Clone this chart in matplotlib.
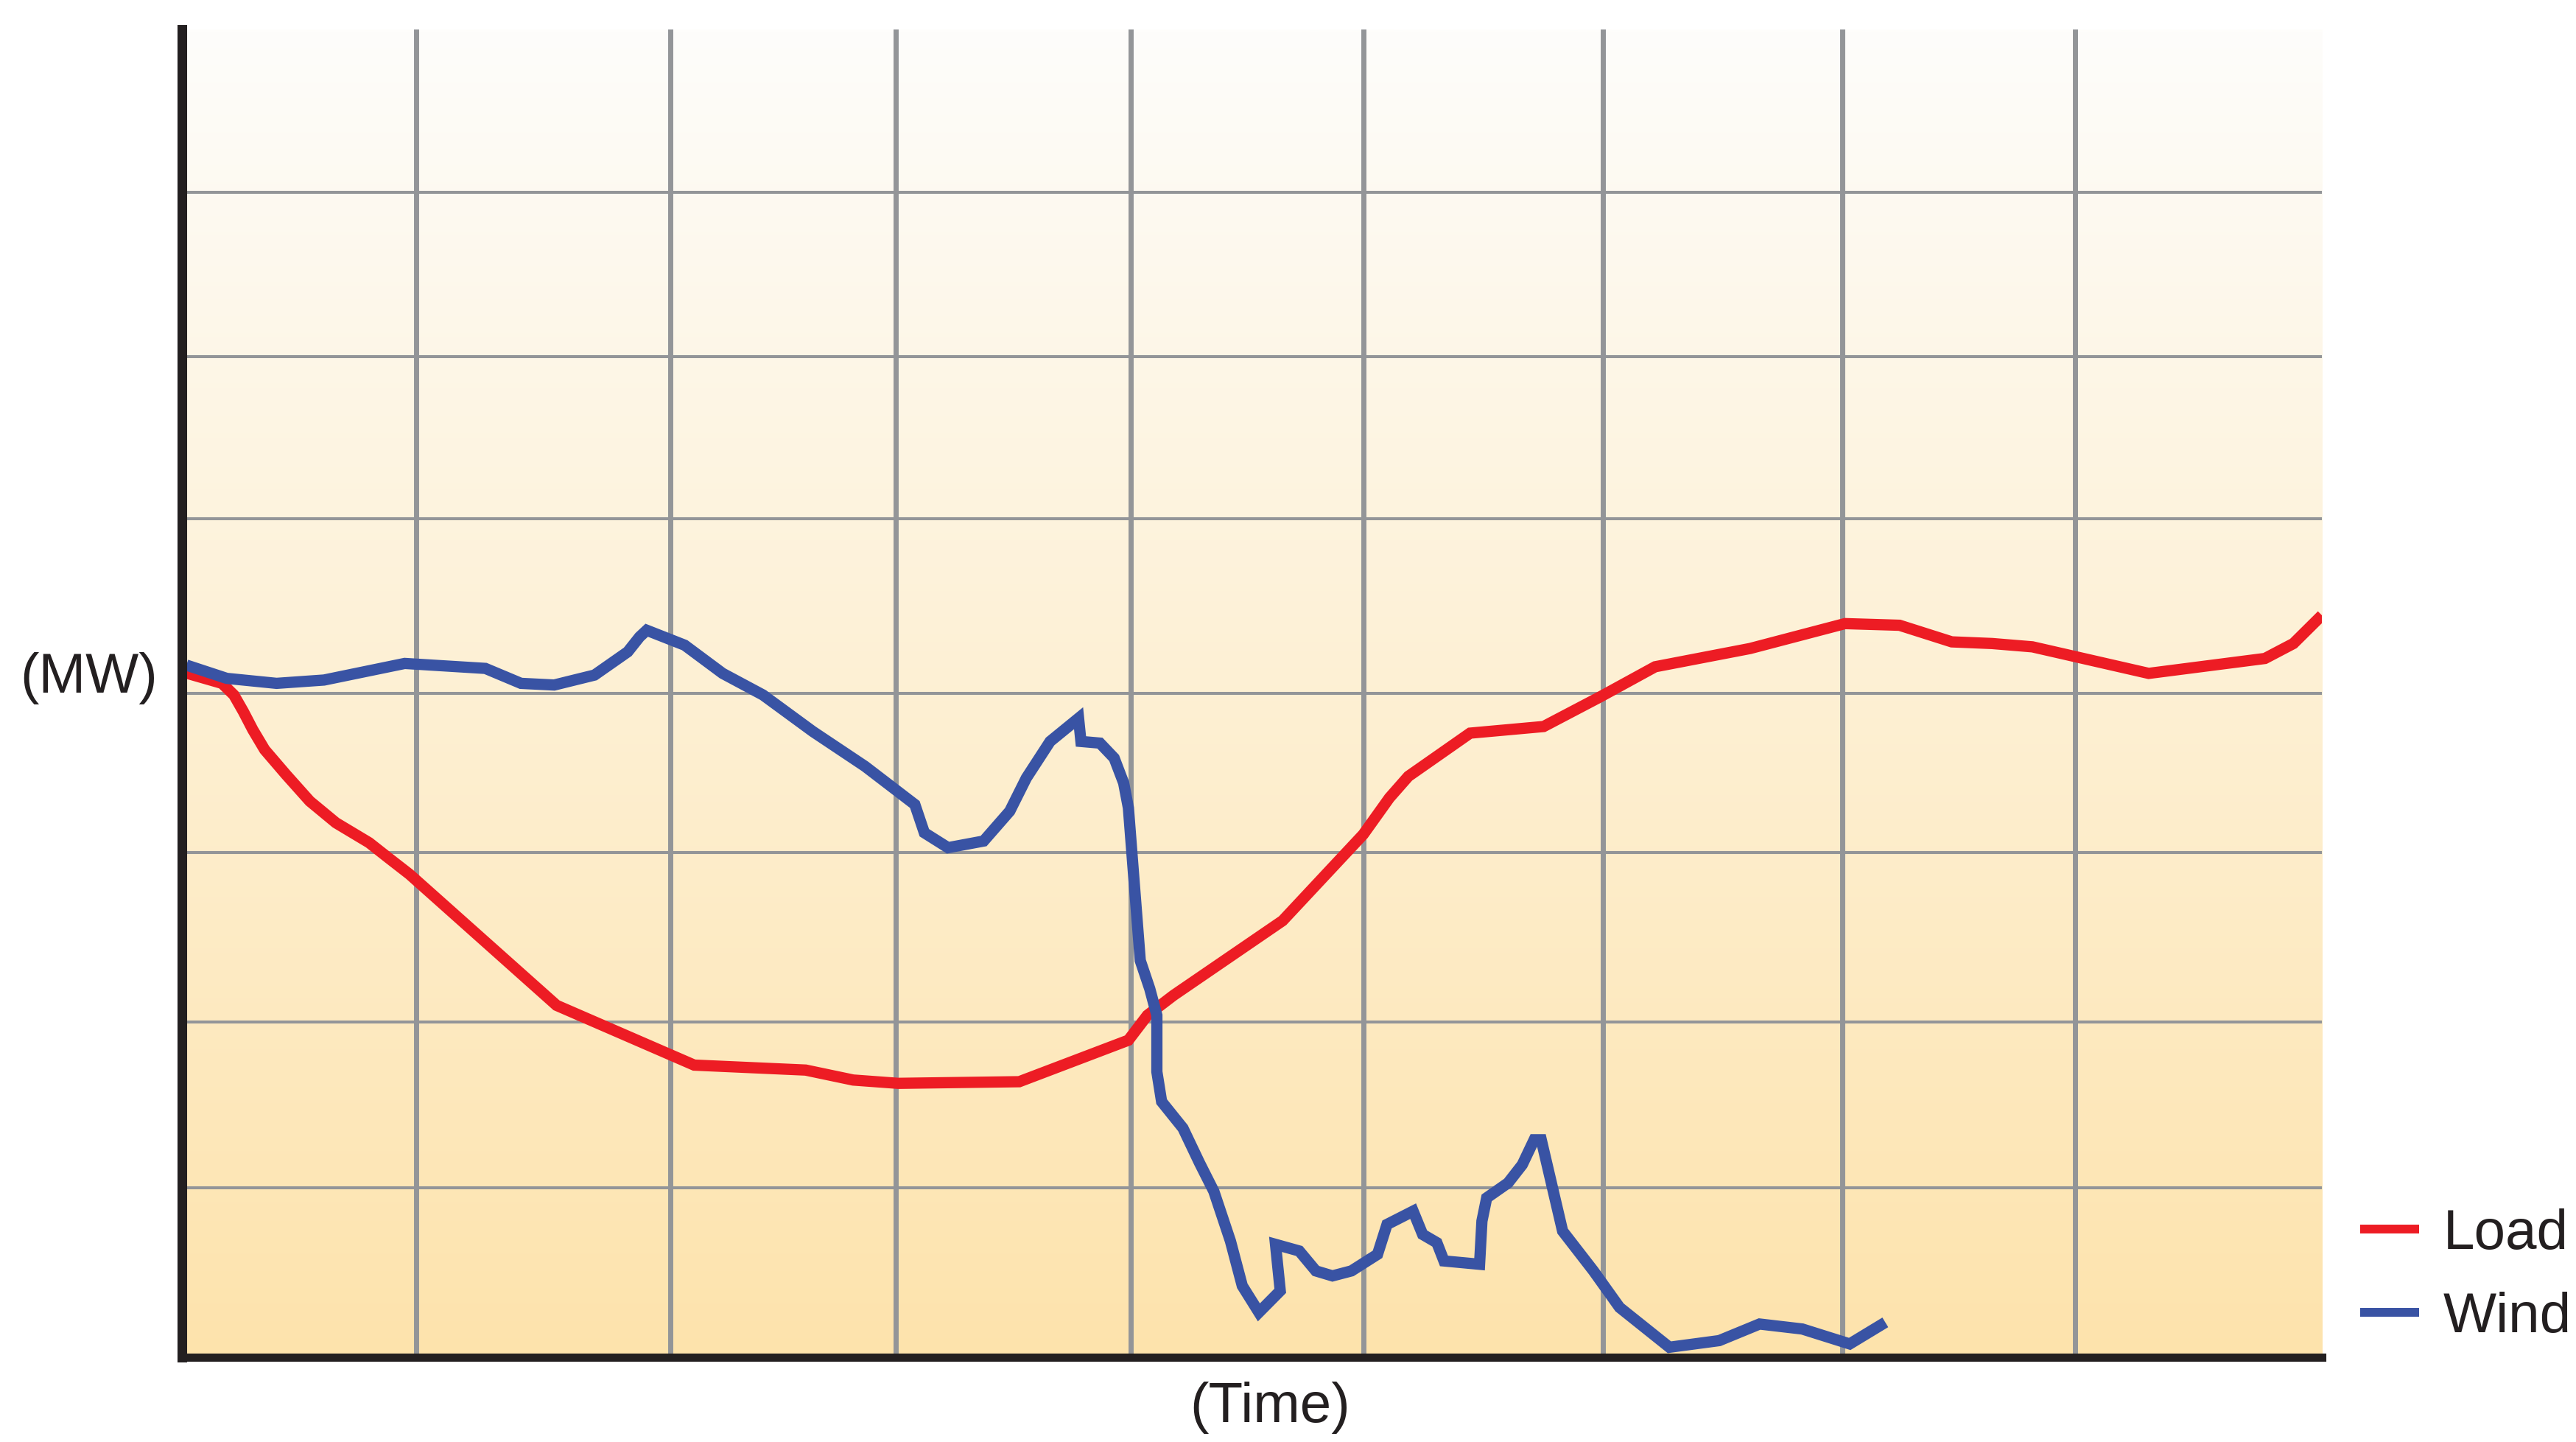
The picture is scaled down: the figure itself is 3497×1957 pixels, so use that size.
import numpy as np
import matplotlib
matplotlib.use("Agg")
import matplotlib.pyplot as plt
from matplotlib.lines import Line2D

plt.rcParams['font.family'] = ['Liberation Sans', 'DejaVu Sans']

# ---- data (time in arbitrary units, output in MW-like units) ----
load_t = [0.00, 0.17, 0.22, 0.26, 0.30, 0.35, 0.44, 0.54, 0.65, 0.79, 0.87, 0.96,
          1.07, 1.58, 2.16, 2.63, 2.83, 3.02, 3.53, 3.99, 4.07, 4.18, 4.64, 4.98,
          5.09, 5.17, 5.43, 5.74, 5.98, 6.21, 6.61, 7.01, 7.24, 7.46, 7.63, 7.80,
          8.29, 8.78, 8.90, 9.02]
load_mw = [4.13, 4.06, 3.99, 3.89, 3.78, 3.66, 3.51, 3.35, 3.22, 3.10, 3.01, 2.91,
           2.77, 2.12, 1.76, 1.73, 1.67, 1.65, 1.66, 1.91, 2.06, 2.18, 2.63, 3.15,
           3.37, 3.50, 3.76, 3.80, 3.98, 4.16, 4.27, 4.42, 4.41, 4.31, 4.30, 4.28,
           4.12, 4.21, 4.30, 4.47]

wind_t = [0.02, 0.19, 0.40, 0.60, 0.94, 1.28, 1.43, 1.57, 1.74, 1.88, 1.93, 1.96,
          2.12, 2.28, 2.45, 2.66, 2.88, 3.09, 3.13, 3.23, 3.38, 3.49, 3.56, 3.66,
          3.78, 3.79, 3.87, 3.93, 3.97, 3.99, 4.04, 4.08, 4.11, 4.11, 4.13, 4.22,
          4.29, 4.35, 4.42, 4.47, 4.54, 4.63, 4.61, 4.71, 4.78, 4.85, 4.93, 5.04,
          5.08, 5.19, 5.23, 5.29, 5.32, 5.47, 5.48, 5.50, 5.59, 5.65, 5.70, 5.73,
          5.82, 5.95, 6.06, 6.27, 6.48, 6.65, 6.83, 7.03, 7.18]
wind_mw = [4.17, 4.09, 4.06, 4.08, 4.18, 4.15, 4.06, 4.05, 4.11, 4.25, 4.34, 4.38,
           4.29, 4.12, 3.99, 3.77, 3.56, 3.33, 3.16, 3.07, 3.11, 3.29, 3.49, 3.71,
           3.85, 3.71, 3.70, 3.61, 3.46, 3.31, 2.39, 2.22, 2.06, 1.72, 1.54, 1.38,
           1.17, 1.00, 0.70, 0.43, 0.27, 0.40, 0.68, 0.64, 0.52, 0.49, 0.52, 0.62,
           0.80, 0.88, 0.74, 0.69, 0.58, 0.56, 0.82, 0.96, 1.05, 1.16, 1.31, 1.31,
           0.76, 0.52, 0.30, 0.06, 0.10, 0.20, 0.17, 0.08, 0.21]

# grid positions (not evenly spaced on the original drawing)
grid_x = [0.99, 2.06, 3.01, 4.00, 4.98, 5.99, 7.00, 7.98]
grid_y = [1.02, 2.02, 3.04, 4.00, 5.05, 6.03, 7.02]

X_MAX = 9.02
Y_MAX = 8.0

RED = '#ED1C24'
BLUE = '#3953A4'
GRID = '#939598'
INK = '#231F20'

fig = plt.figure(figsize=(34.98, 19.57), dpi=100)
ax = fig.add_axes([0.0705, 0.0588, 0.9011 - 0.0705, 0.9796 - 0.0588])

# warm vertical gradient behind the plot
grad = np.linspace(0, 1, 256).reshape(-1, 1)
top = np.array([254, 253, 251]) / 255
bottom = np.array([253, 227, 172]) / 255
img = top + (bottom - top) * grad[:, :, None]
ax.imshow(img, extent=[0, X_MAX, 0, Y_MAX], origin='upper', aspect='auto',
          zorder=0, interpolation='bilinear')

for gx in grid_x:
    ax.axvline(gx, color=GRID, lw=5.0, zorder=1)
for gy in grid_y:
    ax.axhline(gy, color=GRID, lw=2.9, zorder=1)

ax.plot(load_t, load_mw, color=RED, lw=11, solid_joinstyle='miter',
        solid_capstyle='butt', zorder=3)
ax.plot(wind_t, wind_mw, color=BLUE, lw=11, solid_joinstyle='miter',
        solid_capstyle='butt', zorder=4)

ax.set_xlim(0, X_MAX)
ax.set_ylim(0, Y_MAX)
ax.set_xticks([])
ax.set_yticks([])
for side in ['top', 'right']:
    ax.spines[side].set_visible(False)
ax.spines['left'].set_linewidth(9.4)
ax.spines['bottom'].set_linewidth(8)
ax.spines['left'].set_color(INK)
ax.spines['bottom'].set_color(INK)
ax.spines['left'].set_zorder(5)
ax.spines['bottom'].set_zorder(5)

fig.text(0.0077, 0.5294, '(MW)', fontsize=55, color=INK, ha='left', va='center')
fig.text(0.4929, 0.024, '(Time)', fontsize=55, color=INK, ha='center', va='center')

handles = [Line2D([], [], color=RED, lw=8.6, solid_capstyle='butt'),
           Line2D([], [], color=BLUE, lw=8.6, solid_capstyle='butt')]
fig.legend(handles, ['Load', 'Wind'], loc='center left',
           bbox_to_anchor=(0.916, 0.115), frameon=False,
           fontsize=55, handlelength=1.05, handletextpad=0.42, labelspacing=0.55,
           borderpad=0, borderaxespad=0, labelcolor=INK)

fig.savefig('out.png', dpi=100, facecolor='white')
